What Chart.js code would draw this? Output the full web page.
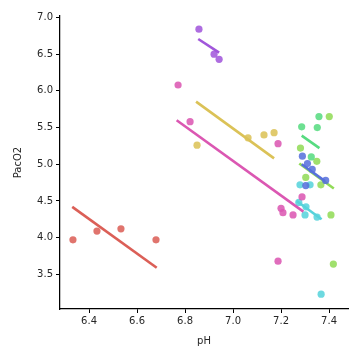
<!DOCTYPE html>
<html>
<head>
<meta charset="utf-8">
<script src="https://cdn.jsdelivr.net/npm/chart.js@4"></script>
<style>
  html, body { margin: 0; padding: 0; background: #fff; }
  .chart { width: 360px; height: 360px; }
</style>
</head>
<body>
<div class="chart"><canvas id="myChart"></canvas></div>
<script>
// one entry per group, in the order seaborn assigns the hls colours
const groupColors = ['#db5f57', '#dbc257', '#91db57', '#57db80', '#57d3db', '#5770db', '#a157db', '#db57b2'];

const phValues = [
    [6.333, 6.433, 6.533, 6.679],
    [6.85, 7.0625, 7.129, 7.171],
    [7.401, 7.281, 7.349, 7.303, 7.366, 7.408, 7.418],
    [7.358, 7.286, 7.351, 7.326],
    [7.279, 7.321, 7.274, 7.304, 7.3, 7.35, 7.367],
    [7.289, 7.31, 7.33, 7.386, 7.303],
    [6.858, 6.921, 6.942],
    [6.771, 6.821, 7.1875, 7.2875, 7.2, 7.208, 7.25, 7.1875]
];
const pacoValues = [
    [3.97, 4.09, 4.12, 3.97],
    [5.26, 5.36, 5.40, 5.43],
    [5.65, 5.22, 5.04, 4.82, 4.72, 4.31, 3.64],
    [5.65, 5.51, 5.50, 5.10],
    [4.72, 4.72, 4.48, 4.42, 4.31, 4.28, 3.23],
    [5.11, 5.01, 4.93, 4.78, 4.71],
    [6.84, 6.50, 6.43],
    [6.08, 5.58, 5.28, 4.555, 4.40, 4.34, 4.31, 3.68]
];

// fitted lines: [start, end]
const fitPh = [
    [6.330, 6.682], [6.846, 7.171], [7.276, 7.42], [7.286, 7.36],
    [7.265, 7.369], [7.286, 7.383], [6.855, 6.942], [6.765, 7.293]
];
const fitPaco = [
    [4.42, 3.59], [5.853, 5.08], [5.01, 4.67], [5.39, 5.22],
    [4.50, 4.25], [5.00, 4.77], [6.707, 6.52], [5.60, 4.355]
];

const xTicks = [6.4, 6.6, 6.8, 7.0, 7.2, 7.4];
const yTicks = [3.5, 4.0, 4.5, 5.0, 5.5, 6.0, 6.5, 7.0];

function setChart() {
    let ctx = document.querySelector("#myChart").getContext('2d');
    let datasets = [];
    groupColors.forEach((color, i) => {
        datasets.push({
            type: 'scatter',
            data: phValues[i].map((x, j) => ({x: x, y: pacoValues[i][j]})),
            backgroundColor: color + 'dd',
            borderWidth: 0,
            pointRadius: 3.6,
            order: 100 - 2 * i
        });
        datasets.push({
            type: 'line',
            data: fitPh[i].map((x, j) => ({x: x, y: fitPaco[i][j]})),
            borderColor: color,
            borderWidth: 2.6,
            pointRadius: 0,
            fill: false,
            order: 99 - 2 * i
        });
    });

    const tickFont = {family: 'DejaVu Sans', size: 10};

    new Chart(ctx, {
        type: 'scatter',
        data: { datasets: datasets },
        options: {
            responsive: true,
            maintainAspectRatio: false,
            animation: false,
            layout: { padding: {top: 16, right: 12, left: 8, bottom: 9} },
            plugins: { legend: {display: false}, tooltip: {enabled: false} },
            scales: {
                x: {
                    type: 'linear',
                    min: 6.279,
                    max: 7.479,
                    afterBuildTicks: axis => { axis.ticks = xTicks.map(v => ({value: v})); },
                    afterFit: axis => { axis.height = 42; },
                    ticks: { color: '#262626', font: tickFont, padding: 2, callback: v => v.toFixed(1) },
                    grid: { drawOnChartArea: false, drawTicks: true, tickLength: 4, tickColor: '#000', tickWidth: 1 },
                    border: { display: true, color: '#000', width: 1.25 },
                    title: { display: true, text: 'pH', color: '#262626', font: tickFont, padding: {top: 2} }
                },
                y: {
                    type: 'linear',
                    min: 3.028,
                    max: 7.02,
                    afterBuildTicks: axis => { axis.ticks = yTicks.map(v => ({value: v})); },
                    afterFit: axis => { axis.width = 52; },
                    ticks: { color: '#262626', font: tickFont, padding: 3, callback: v => v.toFixed(1) },
                    grid: { drawOnChartArea: false, drawTicks: true, tickLength: 4, tickColor: '#000', tickWidth: 1 },
                    border: { display: true, color: '#000', width: 1.25 },
                    title: { display: true, text: 'PacO2', color: '#262626', font: tickFont, padding: {bottom: 4} }
                }
            }
        }
    });
}

setChart();
</script>
</body>
</html>
